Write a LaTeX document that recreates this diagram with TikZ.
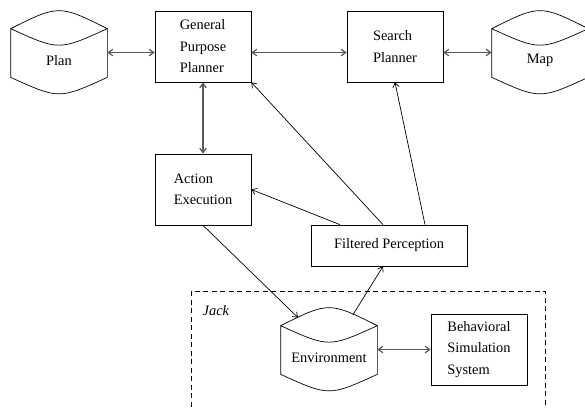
\documentclass[tikz,border=0pt]{standalone}
\usepackage{fontspec}
\setmainfont{Liberation Serif}
\usetikzlibrary{arrows.meta}

% a drum shaped store drawn round a node
\newcommand{\drum}[1]{%
  \draw ([yshift=-12pt]#1.north west) .. controls ([yshift=12pt]#1.north) .. ([yshift=-12pt]#1.north east)
    .. controls ([yshift=-34pt]#1.north) .. ([yshift=-12pt]#1.north west)
    -- ([yshift=11pt]#1.south west) .. controls ([yshift=-11pt]#1.south) .. ([yshift=11pt]#1.south east)
    -- ([yshift=-12pt]#1.north east);}

\begin{document}
\begin{tikzpicture}[x=1pt,y=-1pt,line width=0.7pt,
    >={Straight Barb[length=4.5pt,width=6.5pt]},
    font=\fontsize{14.4}{21.5}\selectfont,
    box/.style={draw,minimum width=96pt,minimum height=71pt,inner sep=0pt,align=left},
    store/.style={minimum width=96pt,minimum height=71pt,inner sep=0pt},
    both/.style={<->,draw=black!65,line width=1.2pt},
    one/.style={->}]
    \useasboundingbox (0,0) rectangle (585,407);
    \node[store,label={[yshift=-8pt]center:Plan}] (plan) at (59,52.5) {};
    \node[store,label={[yshift=-8pt]center:Map}] (map) at (540,52.5) {};
    \node[store,label={[yshift=-8pt]center:Environment}] (env) at (329,349.5) {};
    \drum{plan} \drum{map} \drum{env}
    \node[box] (gpp) at (203,46.5) {General\\Purpose\\Planner};
    \node[box] (search) at (395,46.5) {Search\\Planner};
    \node[box] (action) at (203,189.5) {Action\\Execution};
    \node[box,minimum width=156pt,minimum height=41pt] (filtered) at (389,245.5) {Filtered Perception};
    \node[box] (behav) at (479,349.5) {Behavioral\\Simulation\\System};
    \draw[dash pattern=on 5pt off 3.5pt] (191,291) rectangle (545,430);
    \node[anchor=west,font=\fontsize{14.4}{21.5}\selectfont\itshape] (jack) at (199,311) {Jack};
    \draw[both] (plan.east) -- (plan.east -| gpp.west);
    \draw[both] (plan.east -| gpp.east) -- (plan.east -| search.west);
    \draw[both] (map.west -| search.east) -- (map.west);
    \draw[both] (gpp) -- (action);
    \draw[both] (env.east) -- (behav.west);
    \draw[one] ([xshift=-49pt]filtered.north) -- (action.east);
    \draw[one] ([xshift=-6pt]filtered.north) -- (gpp.south east);
    \draw[one] ([xshift=36pt]filtered.north) -- (search.south);
    \draw[one] (action.south) -- ([xshift=-31pt,yshift=-4pt]env.north);
    \draw[one] ([xshift=24pt,yshift=-1pt]env.north) -- ([xshift=-6pt]filtered.south);
\end{tikzpicture}
\end{document}
